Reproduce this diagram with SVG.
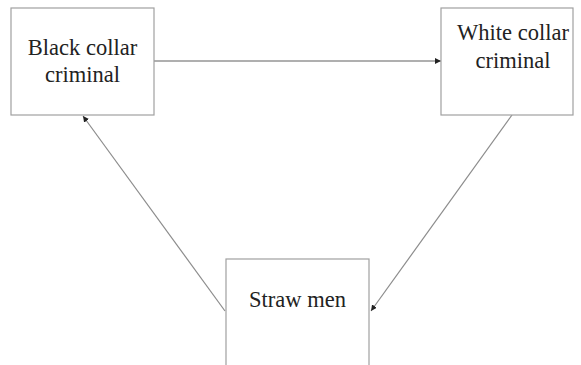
<svg xmlns="http://www.w3.org/2000/svg" width="581" height="365" viewBox="0 0 581 365">
  <style>
    .box { fill: #ffffff; stroke: #a0a0a0; stroke-width: 1.2; }
    .label { font-family: "Liberation Serif", "Times New Roman", serif; font-size: 22.5px; fill: #222222; text-anchor: middle; }
    .edge { fill: none; stroke: #8c8c8c; stroke-width: 1.2; marker-end: url(#head); }
  </style>
  <defs>
    <marker id="head" viewBox="0 0 10 10" refX="10" refY="5" markerWidth="6" markerHeight="6" markerUnits="userSpaceOnUse" orient="auto">
      <path d="M0,0 L10,5 L0,10 z" fill="#222222"/>
    </marker>
  </defs>
  <rect width="581" height="365" fill="#ffffff"/>

  <g id="connectors">
    <line class="edge" x1="154" y1="61" x2="441" y2="61" style="stroke:#606060"/>
    <line class="edge" x1="512" y1="115" x2="371" y2="311"/>
    <line class="edge" x1="225" y1="311" x2="83" y2="116"/>
  </g>

  <g id="black-collar">
    <rect class="box" x="11" y="8" width="143" height="107"/>
    <text class="label" x="82.5" y="55">Black collar</text>
    <text class="label" x="82.5" y="82">criminal</text>
  </g>

  <g id="white-collar">
    <rect class="box" x="441" y="8" width="132" height="107"/>
    <text class="label" x="513" y="40">White collar</text>
    <text class="label" x="513" y="68">criminal</text>
  </g>

  <g id="straw-men">
    <rect class="box" x="226" y="259" width="143" height="120"/>
    <text class="label" x="297.5" y="307">Straw men</text>
  </g>
</svg>
